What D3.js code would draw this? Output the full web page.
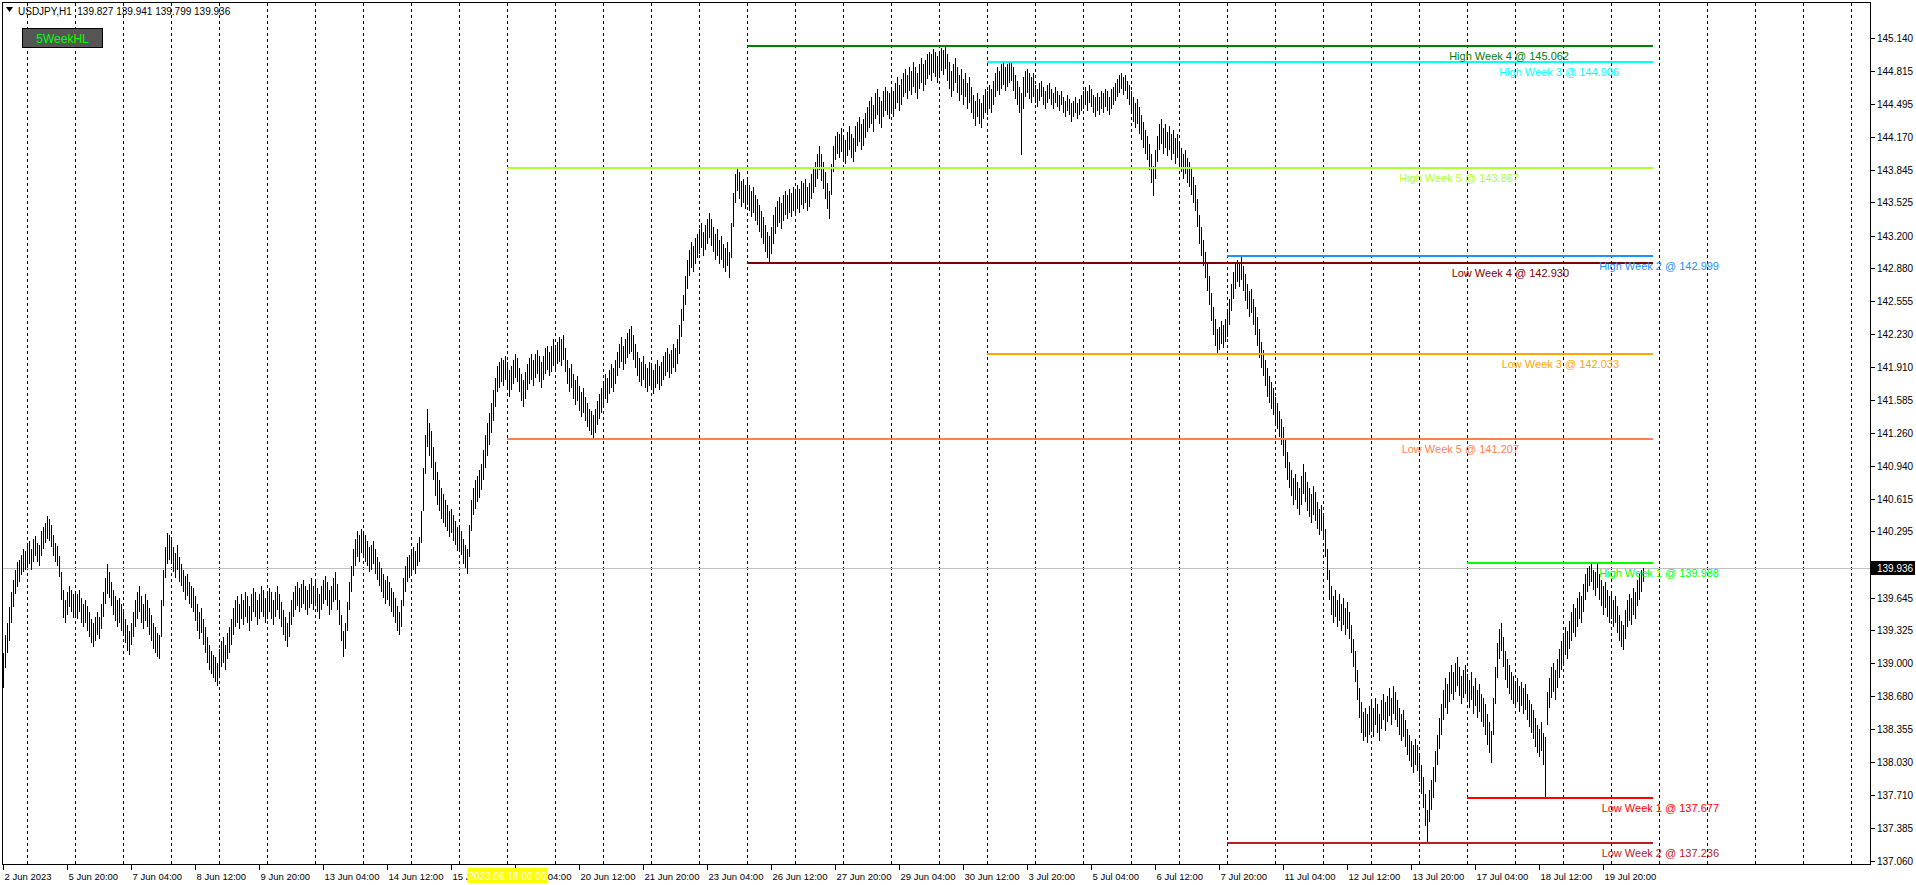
<!DOCTYPE html>
<html><head><meta charset="utf-8">
<script src="https://cdn.jsdelivr.net/npm/d3@7"></script>
<style>body{margin:0;background:#fff;overflow:hidden}svg{display:block}</style>
</head><body><svg id="c" width="1916" height="885"></svg>
<script>
// ---------------- DATA ----------------
const symbolTitle = "USDJPY,H1";
const lastOHLC = ["139.827", "139.941", "139.799", "139.936"];
const currentPrice = 139.936;
const indicatorName = "5WeekHL";
const markerDateLabel = "2023.06.18 00:00";
const markerBar = 252;

// H1 bars from 2 Jun 2023 12:00; prices in pips (0.01) above priceBase
const priceBase = 137.00;
const barLowPips = [
176,195,210,222,240,255,268,275,280,287,290,292,
295,298,292,300,305,300,296,305,312,318,322,320,314,305,300,296,285,262,245,240,248,255,250,245,
248,244,250,240,236,240,232,226,220,216,222,228,224,234,246,258,268,264,256,248,242,236,240,232,
228,220,212,208,218,226,236,244,250,240,234,242,236,228,222,214,210,206,204,226,256,284,298,302,
300,290,284,292,280,276,270,262,266,258,254,250,242,232,224,230,218,210,200,194,190,186,182,178,
188,196,200,194,204,210,218,228,236,240,234,244,238,246,240,232,242,250,246,238,244,250,246,240,
244,250,244,238,246,252,244,236,228,222,216,226,238,246,252,256,250,254,258,252,248,254,258,252,
256,250,244,252,258,262,256,248,252,260,262,252,238,222,206,214,232,252,270,286,296,304,300,308,
306,300,296,290,292,298,288,282,276,270,264,258,262,256,250,246,240,232,228,236,256,270,280,284,
286,292,288,296,300,318,350,386,412,404,392,380,364,356,350,342,338,334,330,324,328,320,316,310,
312,306,298,294,288,304,330,346,352,358,362,370,380,392,404,414,426,438,452,466,470,476,472,478,
470,462,468,474,480,476,466,458,452,460,468,474,478,472,480,484,476,470,478,484,488,482,486,492,
488,494,496,492,498,486,474,466,470,460,454,458,448,442,446,438,432,428,424,421,426,434,440,446,
452,460,456,464,470,466,474,482,490,496,488,494,500,504,506,498,490,482,476,472,478,470,466,472,
468,464,470,474,468,472,478,482,486,480,484,490,486,494,504,520,536,552,568,580,588,584,592,598,
602,608,600,606,612,618,610,604,596,600,592,596,588,584,590,578,598,628,652,664,656,648,652,646,
650,644,638,642,634,630,624,618,612,604,598,593,602,612,622,628,632,626,634,640,636,642,638,644,
640,646,642,650,646,652,644,648,656,662,668,676,684,674,666,656,646,636,660,682,694,700,696,702,
694,690,698,704,696,692,702,708,712,704,708,716,722,726,730,722,734,738,730,726,736,742,738,734,
740,736,744,750,742,748,756,760,754,762,758,766,760,754,764,770,762,768,774,778,772,780,776,770,
776,782,778,784,772,764,756,762,770,760,752,758,748,756,744,750,740,734,728,736,730,726,734,740,
738,744,740,748,756,762,758,764,768,762,766,770,772,762,754,748,740,699,744,756,760,754,750,756,
750,746,752,756,748,744,750,754,748,744,750,746,742,748,740,736,742,738,732,736,740,734,738,742,
744,748,742,750,746,740,736,742,738,744,740,746,742,738,744,748,752,756,760,764,758,762,754,748,
740,732,726,730,720,714,706,700,694,684,672,659,676,692,704,710,700,706,698,704,694,700,690,696,
688,682,676,680,672,668,660,652,644,628,612,600,590,578,566,552,536,522,512,503,508,514,510,516,
520,532,546,558,568,574,570,576,566,556,548,540,544,532,522,512,500,490,482,472,462,456,450,444,
436,430,422,414,404,392,380,372,364,356,360,352,346,356,366,358,350,344,338,346,340,332,326,330,
322,304,282,262,248,240,246,236,242,232,238,228,234,224,210,196,182,164,146,132,124,128,122,130,
136,128,140,132,124,136,144,134,142,148,140,150,144,138,130,124,128,118,110,104,98,92,100,94,
84,72,58,40,24,44,56,68,84,100,116,130,144,156,150,162,170,164,172,178,168,160,166,170,
162,156,164,150,158,146,152,142,138,130,120,112,102,130,160,186,204,212,196,184,176,170,164,160,
156,162,152,158,150,154,144,138,132,126,118,112,108,114,100,68,140,156,166,172,164,176,186,194,
200,208,204,214,222,230,226,236,244,240,250,262,270,276,280,272,266,274,262,256,248,254,246,240,
244,236,240,230,222,216,213,224,236,242,238,248,244,256,262,270,280
];
const barHighPips = [
210,228,240,255,270,282,292,300,302,306,312,310,
315,320,312,322,325,318,316,330,334,338,345,342,336,326,318,315,305,290,272,262,270,276,272,268,
270,268,272,264,258,262,256,250,244,240,246,250,246,258,270,284,298,290,280,272,266,262,264,258,
252,244,238,232,240,250,262,270,276,266,258,268,262,254,248,240,236,230,228,262,292,314,328,326,
322,314,308,316,304,298,292,286,288,280,276,274,266,258,250,254,244,236,226,218,212,208,206,200,
214,222,226,218,230,236,244,254,262,266,258,268,262,270,266,256,268,274,270,262,268,276,272,264,
268,274,270,262,270,276,268,260,252,246,240,250,262,270,276,280,274,278,282,276,272,278,284,276,
280,274,268,276,282,286,280,272,276,284,290,278,262,248,232,240,260,280,296,312,322,330,326,332,
330,326,320,314,316,320,312,304,300,294,288,282,286,280,274,270,264,256,250,262,284,296,304,306,
310,314,310,318,324,350,392,424,450,436,428,412,398,388,380,372,366,360,356,350,352,346,340,334,
336,330,322,316,312,336,360,372,380,384,390,396,410,424,436,446,456,468,480,492,496,500,498,502,
496,488,492,498,504,500,490,484,478,486,494,500,504,498,504,508,502,496,502,510,512,506,512,518,
512,516,520,518,522,510,498,490,494,484,478,482,472,466,470,462,456,450,448,444,450,458,464,470,
476,484,480,488,494,490,498,506,514,520,512,518,524,528,531,522,514,506,500,496,502,494,490,496,
492,488,494,498,492,496,502,506,510,504,508,514,510,518,532,548,562,580,596,606,614,610,618,622,
626,632,624,630,636,642,636,628,622,626,616,620,612,608,614,604,632,662,680,687,682,674,676,670,
676,670,664,668,660,656,650,644,638,630,624,620,628,640,648,654,658,652,660,664,660,666,662,668,
664,670,666,674,672,676,668,672,680,686,692,700,708,700,692,682,672,664,690,708,718,722,720,726,
718,714,722,728,720,716,728,732,736,730,734,740,746,752,756,748,760,764,756,752,762,766,762,760,
766,762,770,776,768,774,780,784,778,786,782,790,786,780,788,794,788,792,798,800,798,803,800,796,
800,804,802,806,798,790,782,788,794,786,778,784,774,780,770,776,766,758,752,760,754,750,758,764,
762,768,764,772,780,786,782,788,790,786,788,790,791,786,778,772,766,760,776,782,784,780,776,780,
768,764,770,772,766,762,768,770,764,760,766,762,758,762,756,752,758,754,750,752,756,750,754,758,
762,766,762,768,764,758,756,760,756,762,760,764,762,756,764,766,770,774,778,780,776,778,772,768,
762,756,750,754,746,738,732,724,718,710,700,688,704,718,730,734,726,730,722,728,720,724,716,720,
712,706,700,704,696,692,686,678,670,656,640,628,616,604,592,580,564,550,538,528,530,536,532,538,
546,558,572,584,592,596,594,600,590,582,572,566,568,558,550,540,528,516,508,498,490,482,476,470,
462,456,448,440,432,420,408,398,390,382,386,378,372,384,396,388,378,372,366,374,368,358,352,356,
346,332,312,292,276,266,272,262,268,258,264,254,260,250,238,224,212,194,176,162,152,156,150,158,
162,156,166,160,150,164,170,162,168,176,166,178,172,164,156,150,154,144,136,130,124,120,126,120,
112,100,88,72,56,76,86,98,114,130,146,160,174,186,180,192,198,192,200,206,196,188,194,198,
190,184,192,178,186,174,180,170,166,160,150,142,134,166,196,220,234,240,226,212,204,198,192,188,
182,186,178,182,176,180,170,164,160,154,146,140,136,142,132,128,172,186,196,200,194,204,214,222,
228,236,232,242,250,258,254,264,270,266,278,288,294,296,299,292,290,298,288,282,276,280,272,266,
270,262,266,256,248,242,238,252,262,268,264,274,270,282,288,292,294
];

// 5-week high/low levels
const levelNames  = ["High Week 1","Low Week 1","High Week 2","Low Week 2","High Week 3","Low Week 3","High Week 4","Low Week 4","High Week 5","Low Week 5"];
const levelValues = [139.988, 137.677, 142.999, 137.236, 144.906, 142.033, 145.062, 142.930, 143.867, 141.207];
const levelWeeks  = [1,1,2,2,3,3,4,4,5,5];
const levelStartBars = [732, 732, 612, 612, 492, 492, 372, 372, 252, 252];
const levelColors = ["#00FF00","#FF0000","#1E90FF","#B22222","#00FFFF","#FFA500","#008000","#800000","#ADFF2F","#FF7F50"];

const priceTickLabels = ["145.140","144.815","144.495","144.170","143.845","143.525","143.200","142.880","142.555","142.230","141.910","141.585","141.260","140.940","140.615","140.295","139.970","139.645","139.325","139.000","138.680","138.355","138.030","137.710","137.385","137.060"];
const dateTickLabels = ["2 Jun 2023","5 Jun 20:00","7 Jun 04:00","8 Jun 12:00","9 Jun 20:00","13 Jun 04:00","14 Jun 12:00","15 Jun 20:00","19 Jun 04:00","20 Jun 12:00","21 Jun 20:00","23 Jun 04:00","26 Jun 12:00","27 Jun 20:00","29 Jun 04:00","30 Jun 12:00","3 Jul 20:00","5 Jul 04:00","6 Jul 12:00","7 Jul 20:00","11 Jul 04:00","12 Jul 12:00","13 Jul 20:00","17 Jul 04:00","18 Jul 12:00","19 Jul 20:00"];
const barsPerDateLabel = 32;
const barsPerDay = 24;
const firstDayBreakBar = 12;

// ---------------- DRAW ----------------
const FONT = "'Liberation Sans', Arial, sans-serif";
const svg = d3.select("#c");
const L = 2.5, T = 2.5, R = 1870.5, B = 864.5;
const x = d3.scaleLinear().domain([0, 933.5]).range([3, 1870]);
const y = d3.scaleLinear().domain([137.060, 145.140]).range([861, 38]);
const px = v => Math.round(x(v)) + 0.5;
const py = v => Math.round(y(v)) + 0.5;

svg.append("rect").attr("width", 1916).attr("height", 885).attr("fill", "#fff");

// daily separators (dashed)
const grid = svg.append("g");
for (let i = firstDayBreakBar; x(i) < R - 2; i += barsPerDay) {
  grid.append("line").attr("x1", px(i)).attr("x2", px(i)).attr("y1", T).attr("y2", B)
    .attr("stroke", "#000").attr("stroke-dasharray", "3,3").attr("shape-rendering", "crispEdges");
}

// bid line
svg.append("line").attr("x1", L).attr("x2", R).attr("y1", py(currentPrice)).attr("y2", py(currentPrice))
  .attr("stroke", "#C0C0C0").attr("shape-rendering", "crispEdges");

// bars
const n = Math.min(barLowPips.length, barHighPips.length);
svg.append("g").selectAll("line").data(d3.range(n)).join("line")
  .attr("x1", i => px(i)).attr("x2", i => px(i))
  .attr("y1", i => Math.round(y(priceBase + barLowPips[i] / 100)))
  .attr("y2", i => Math.min(Math.round(y(priceBase + barHighPips[i] / 100)), Math.round(y(priceBase + barLowPips[i] / 100)) - 1))
  .attr("stroke", "#000").attr("stroke-width", 1).attr("shape-rendering", "crispEdges");

// level lines
const levelEndBar = 825;
const labelEndBar = {1: 858, 2: 858, 3: 808, 4: 783, 5: 758};
const lv = svg.append("g");
levelValues.forEach((v, k) => {
  const yy = Math.round(y(v));
  lv.append("line").attr("x1", x(levelStartBars[k])).attr("x2", x(levelEndBar))
    .attr("y1", yy).attr("y2", yy).attr("stroke", levelColors[k]).attr("stroke-width", 2)
    .attr("shape-rendering", "crispEdges");
});
levelValues.forEach((v, k) => {
  const yy = Math.round(y(v));
  lv.append("text").attr("x", x(labelEndBar[levelWeeks[k]])).attr("y", yy + 14)
    .attr("text-anchor", "end").attr("font-family", FONT).attr("font-size", 11)
    .attr("fill", levelColors[k]).text(levelNames[k] + " @ " + v.toFixed(3));
});

// frame
svg.append("path").attr("d", `M${L},${T}H${R}V${B}H${L}Z`).attr("fill", "none").attr("stroke", "#000")
  .attr("shape-rendering", "crispEdges");

// price axis
const pa = svg.append("g");
priceTickLabels.forEach(s => {
  const yy = Math.round(y(+s)) + 0.5;
  pa.append("line").attr("x1", R).attr("x2", R + 4).attr("y1", yy).attr("y2", yy).attr("stroke", "#000")
    .attr("shape-rendering", "crispEdges");
  pa.append("text").attr("x", 1877).attr("y", yy).attr("dy", "0.35em").attr("font-family", FONT)
    .attr("font-size", 10).attr("fill", "#000").text(s);
});
const cy = Math.round(y(currentPrice));
pa.append("rect").attr("x", 1871).attr("y", cy - 7).attr("width", 44).attr("height", 14).attr("fill", "#000");
pa.append("text").attr("x", 1877).attr("y", cy).attr("dy", "0.35em").attr("font-family", FONT)
  .attr("font-size", 10).attr("fill", "#fff").text(lastOHLC[3]);

// time axis
const ta = svg.append("g");
dateTickLabels.forEach((s, k) => {
  const xx = px(k * barsPerDateLabel);
  ta.append("line").attr("x1", xx).attr("x2", xx).attr("y1", B).attr("y2", B + 5).attr("stroke", "#000")
    .attr("shape-rendering", "crispEdges");
  ta.append("text").attr("x", xx + 1).attr("y", 880).attr("font-family", FONT).attr("font-size", 9.5)
    .attr("fill", "#000").text(s);
});
const mx = px(markerBar);
ta.append("rect").attr("x", mx - 40).attr("y", 868).attr("width", 80).attr("height", 15).attr("fill", "#FFFF00");
ta.append("text").attr("x", mx).attr("y", 879.5).attr("text-anchor", "middle").attr("font-family", FONT)
  .attr("font-size", 10).attr("fill", "#fff").text(markerDateLabel);

// header
svg.append("path").attr("d", "M6,7L13,7L9.5,12Z").attr("fill", "#000");
svg.append("text").attr("x", 18).attr("y", 15).attr("font-family", FONT).attr("font-size", 10)
  .attr("fill", "#000").attr("xml:space", "preserve")
  .text(symbolTitle + "  " + lastOHLC.join(" "));

// indicator button
svg.append("rect").attr("x", 22.5).attr("y", 28.5).attr("width", 80).attr("height", 19)
  .attr("fill", "#555555").attr("stroke", "#000");
svg.append("text").attr("x", 62.5).attr("y", 43).attr("text-anchor", "middle").attr("font-family", FONT)
  .attr("font-size", 12).attr("fill", "#00FF00").text(indicatorName);
</script></body></html>
